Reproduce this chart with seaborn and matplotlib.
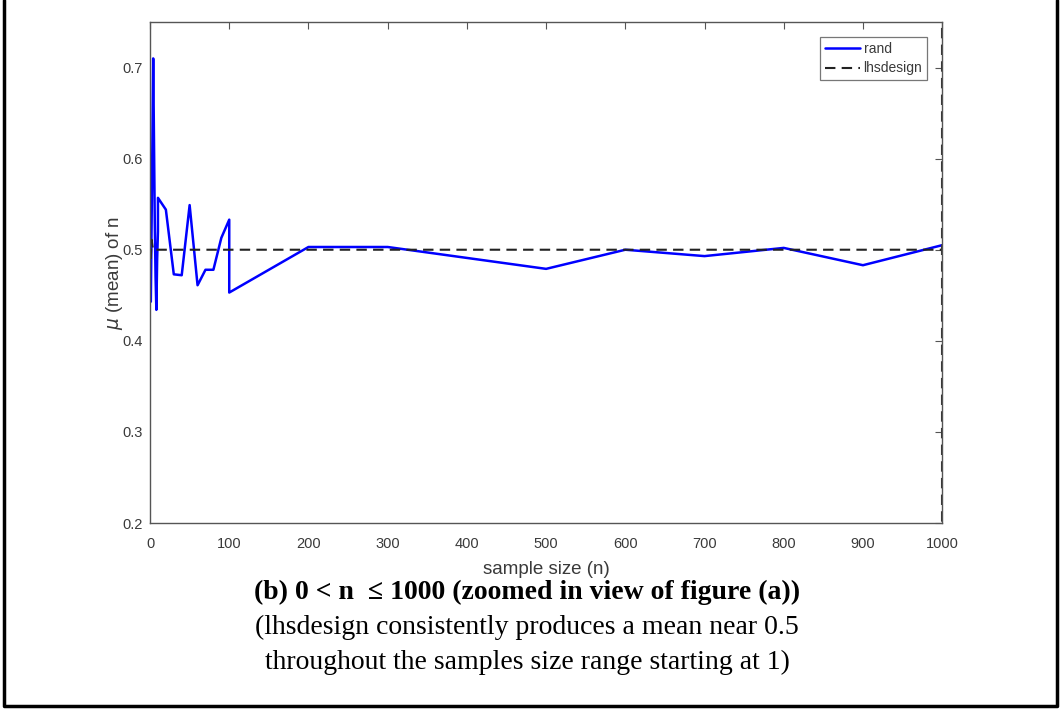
import matplotlib
matplotlib.use("Agg")
import matplotlib.pyplot as plt
import seaborn as sns
import pandas as pd
from matplotlib.lines import Line2D

# ---- data ----
rand_n = [1, 2, 3, 4, 5, 6, 7, 8, 9, 10,
          10, 20, 30, 40, 50, 60, 70, 80, 90, 100,
          100, 200, 300, 400, 500, 600, 700, 800, 900, 1000]
rand_mean = [0.443, 0.53, 0.62, 0.71, 0.62, 0.53, 0.47, 0.434, 0.49, 0.52,
             0.557, 0.544, 0.473, 0.472, 0.549, 0.461, 0.478, 0.478, 0.513, 0.533,
             0.453, 0.503, 0.503, 0.491, 0.479, 0.500, 0.493, 0.502, 0.483, 0.505]
lhs_n = rand_n
lhs_mean = [0.49, 0.511, 0.505, 0.50, 0.499, 0.50, 0.50, 0.50, 0.50, 0.50,
            0.50, 0.50, 0.50, 0.50, 0.50, 0.50, 0.50, 0.50, 0.50, 0.50,
            0.50, 0.50, 0.50, 0.50, 0.50, 0.50, 0.50, 0.50, 0.50, 0.50]
lhs_edge_n = [1000, 1000]
lhs_edge_mean = [0.0, 1.0]

x_ticks = [0, 100, 200, 300, 400, 500, 600, 700, 800, 900, 1000]
y_ticks = [0.2, 0.3, 0.4, 0.5, 0.6, 0.7]

caption_title = "(b) 0 < n  \u2264 1000 (zoomed in view of figure (a))"
caption_lines = ["(lhsdesign consistently produces a mean near 0.5",
                 "throughout the samples size range starting at 1)"]

sns.set_style("white")
plt.rcParams["font.family"] = ["Liberation Sans", "DejaVu Sans"]

df = pd.concat([
    pd.DataFrame({"n": rand_n, "mean": rand_mean, "series": "rand"}),
    pd.DataFrame({"n": lhs_n, "mean": lhs_mean, "series": "lhsdesign"}),
], ignore_index=True)

fig = plt.figure(figsize=(10.61, 7.09), dpi=100)
ax = fig.add_axes([0.1414, 0.2623, 0.7466, 0.7067])

axis_col = "#555555"
lab_col = "#3a3a3a"
dash = (5, 3)
sns.lineplot(data=df, x="n", y="mean", hue="series", style="series",
             palette={"rand": "#0000ff", "lhsdesign": "#222222"},
             dashes={"rand": "", "lhsdesign": dash},
             estimator=None, sort=False, units="series",
             linewidth=1.8, ax=ax, legend=False)
for ln in ax.lines:
    if ln.get_linestyle() != "-":
        ln.set_linewidth(1.5)
sns.lineplot(x=lhs_edge_n, y=lhs_edge_mean, color="#333333", linewidth=1.5,
             sort=False, estimator=None, ax=ax)
ax.lines[-1].set_dashes(dash)

ax.set_xlim(0, 1000)
ax.set_ylim(0.2, 0.75)
ax.set_xticks(x_ticks)
ax.set_yticks(y_ticks)
ax.set_xticklabels([str(t) for t in x_ticks])
ax.set_yticklabels([f"{t:.1f}" for t in y_ticks])
ax.tick_params(direction="in", length=5, width=0.8, color=axis_col,
               labelcolor=lab_col, labelsize=10.5, top=True, right=True)
ax.tick_params(axis="x", pad=10)
ax.tick_params(axis="y", pad=5)
for s in ax.spines.values():
    s.set_color(axis_col)
    s.set_linewidth(1.0)
ax.set_xlabel("sample size (n)", fontsize=13.5, color=lab_col, labelpad=7)
ax.set_ylabel("$\\mu$ (mean) of n", fontsize=13.5, color=lab_col, labelpad=-1.5)

handles = [Line2D([], [], color="#0000ff", lw=1.8),
           Line2D([], [], color="#222222", lw=1.5, dashes=dash)]
leg = ax.legend(handles, ["rand", "lhsdesign"], loc="upper right",
                fontsize=10, frameon=True, fancybox=False, edgecolor=axis_col,
                handlelength=2.5, handletextpad=0.25, borderpad=0.35,
                labelspacing=0.4, bbox_to_anchor=(0.981, 0.97), borderaxespad=0)
leg.get_frame().set_linewidth(0.9)
for t in leg.get_texts():
    t.set_color(lab_col)

serif = ["Liberation Serif", "DejaVu Serif"]
fig.text(0.497, 0.165, caption_title, ha="center", va="center", color="black",
         fontsize=20, fontweight="bold", family=serif)
fig.text(0.497, 0.115, caption_lines[0], ha="center", va="center", color="black",
         fontsize=20, family=serif)
fig.text(0.497, 0.066, caption_lines[1], ha="center", va="center", color="black",
         fontsize=20, family=serif)

# page frame (left, bottom, right)
fig.add_artist(Line2D([0.0035, 0.0035, 0.9965, 0.9965], [1.0, 0.004, 0.004, 1.0],
                      transform=fig.transFigure, color="black", lw=2.5))

fig.savefig("out.png", dpi=100)
